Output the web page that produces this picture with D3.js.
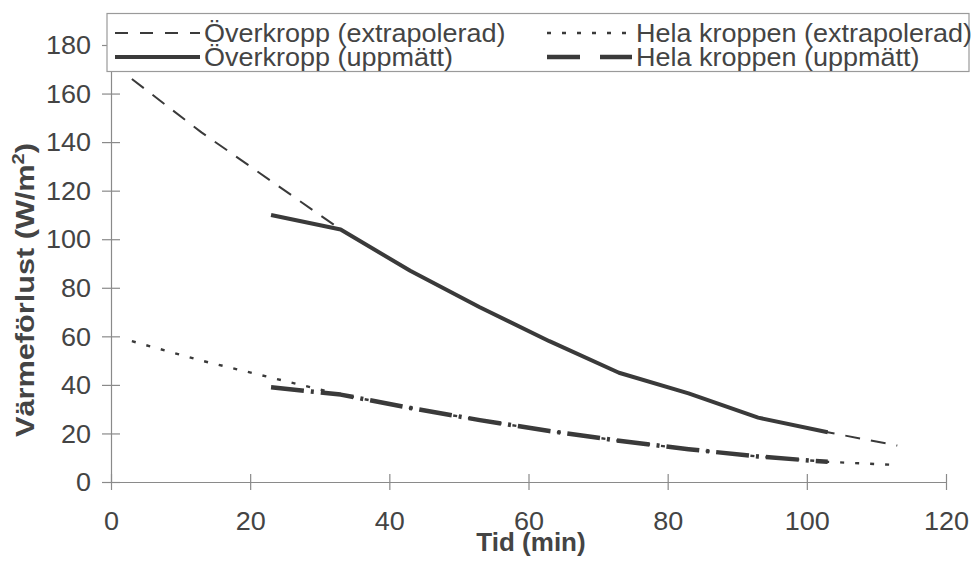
<!DOCTYPE html>
<html lang="sv">
<head>
<meta charset="utf-8">
<title>Värmeförlust över tid</title>
<script src="https://cdnjs.cloudflare.com/ajax/libs/d3/7.8.5/d3.min.js"></script>
<style>
  body { margin: 0; background: #fff; }
  text { font-family: "Liberation Sans", Arial, sans-serif; fill: #444; }
  .wide { transform-box: fill-box; transform: scaleX(1.08); }
  .mid { transform-origin: 50% 50%; }
  .end { transform-origin: 100% 50%; }
  .start { transform-origin: 0% 50%; }
</style>
</head>
<body>
<script>
// data
var time = [3, 13, 23, 33, 43, 53, 63, 73, 83, 93, 103, 113];
var timeMeasured = [23, 33, 43, 53, 63, 73, 83, 93, 103];
var overkroppExtrap = [166, 144, 124, 104, 87, 72, 58, 45, 36.5, 26.5, 20.5, 15];
var overkroppMeasured = [110, 104, 87, 72, 58, 45, 36.5, 26.5, 20.5];
var helaExtrap = [58, 50, 43, 36, 30.5, 25.5, 21, 17, 13.5, 10.5, 8.3, 7];
var helaMeasured = [39, 36, 30.5, 25.5, 21, 17, 13.5, 10.5, 8.3];
var xTicks = [0, 20, 40, 60, 80, 100, 120];
var yTicks = [0, 20, 40, 60, 80, 100, 120, 140, 160, 180];

var w = 971, h = 563;
var ink = "#3a3a3a";

var svg = d3.select("body").append("svg")
    .attr("width", w)
    .attr("height", h);

var x = d3.scaleLinear().domain([0, 120]).range([111, 946]);
var y = d3.scaleLinear().domain([0, 180]).range([482, 45]);

// axes
var gx = svg.append("g")
    .attr("transform", "translate(0," + y(0) + ")")
    .call(d3.axisBottom(x).tickValues(xTicks).tickSize(8).tickSizeOuter(0));
gx.selectAll(".tick line").attr("y1", -8).attr("y2", 8);
gx.selectAll(".tick text").attr("y", 48).attr("dy", 0)
    .attr("class", "wide mid").attr("font-size", 25);

var gy = svg.append("g")
    .attr("transform", "translate(" + x(0) + ",0)")
    .call(d3.axisLeft(y).tickValues(yTicks).tickSize(9).tickSizeOuter(0));
gy.selectAll(".tick line").attr("x1", -9).attr("x2", 9);
gy.selectAll(".tick text").attr("x", -20).attr("dy", "0.35em")
    .attr("class", "wide end").attr("font-size", 25);

svg.selectAll(".domain, .tick line").attr("stroke", "#8a8a8a").attr("stroke-width", 1.2);
svg.selectAll(".tick text").attr("fill", "#444").attr("font-family", null);

// lines
var line = d3.line()
    .x(function(d) { return x(d[0]); })
    .y(function(d) { return y(d[1]); });

var series = [
  { t: time, v: helaExtrap, width: 2.4, dash: "4,11" },
  { t: time, v: overkroppExtrap, width: 2, dash: "15,11" },
  { t: timeMeasured, v: helaMeasured, width: 4.5, dash: "33,7,3,7" },
  { t: timeMeasured, v: overkroppMeasured, width: 4, dash: null }
];

svg.selectAll("path.series")
   .data(series)
   .enter()
   .append("path")
   .attr("class", "series")
   .attr("d", function(s) {
       return line(s.t.map(function(t, i) { return [t, s.v[i]]; }));
   })
   .attr("fill", "none")
   .attr("stroke", ink)
   .attr("stroke-width", function(s) { return s.width; })
   .attr("stroke-dasharray", function(s) { return s.dash; })
   .attr("stroke-linejoin", "round");

// legend
svg.append("rect")
   .attr("x", 107).attr("y", 13.5)
   .attr("width", 862).attr("height", 58)
   .attr("fill", "#fff")
   .attr("stroke", "#9a9a9a")
   .attr("stroke-width", 1.2);

var legend = [
  { label: "Överkropp (extrapolerad)", col: 0, row: 0, width: 2, dash: "13,12" },
  { label: "Överkropp (uppmätt)", col: 0, row: 1, width: 4, dash: null },
  { label: "Hela kroppen (extrapolerad)", col: 1, row: 0, width: 2.4, dash: "4,11" },
  { label: "Hela kroppen (uppmätt)", col: 1, row: 1, width: 4.5, dash: "33,20" }
];
var colX = [115, 547];

var lg = svg.selectAll("g.leg")
   .data(legend)
   .enter()
   .append("g")
   .attr("class", "leg");

lg.append("line")
  .attr("x1", function(d) { return colX[d.col]; })
  .attr("x2", function(d) { return colX[d.col] + 85; })
  .attr("y1", function(d) { return 33 + d.row * 24; })
  .attr("y2", function(d) { return 33 + d.row * 24; })
  .attr("stroke", ink)
  .attr("stroke-width", function(d) { return d.width; })
  .attr("stroke-dasharray", function(d) { return d.dash; });

lg.append("text")
  .attr("class", "wide start")
  .attr("x", function(d) { return colX[d.col] + 89; })
  .attr("y", function(d) { return 42 + d.row * 24; })
  .attr("font-size", 25)
  .text(function(d) { return d.label; });

// axis titles
svg.append("text")
   .attr("x", 531).attr("y", 551)
   .attr("text-anchor", "middle")
   .attr("font-size", 26)
   .attr("font-weight", "bold")
   .text("Tid (min)");

var yt = svg.append("g")
   .attr("transform", "translate(34,290) rotate(-90) scale(1.18,1)")
   .append("text")
   .attr("text-anchor", "middle")
   .attr("font-size", 26)
   .attr("font-weight", "bold");
yt.append("tspan").text("Värmeförlust (W/m");
yt.append("tspan").attr("dy", -10).attr("font-size", 17).text("2");
yt.append("tspan").attr("dy", 10).text(")");
</script>
</body>
</html>
